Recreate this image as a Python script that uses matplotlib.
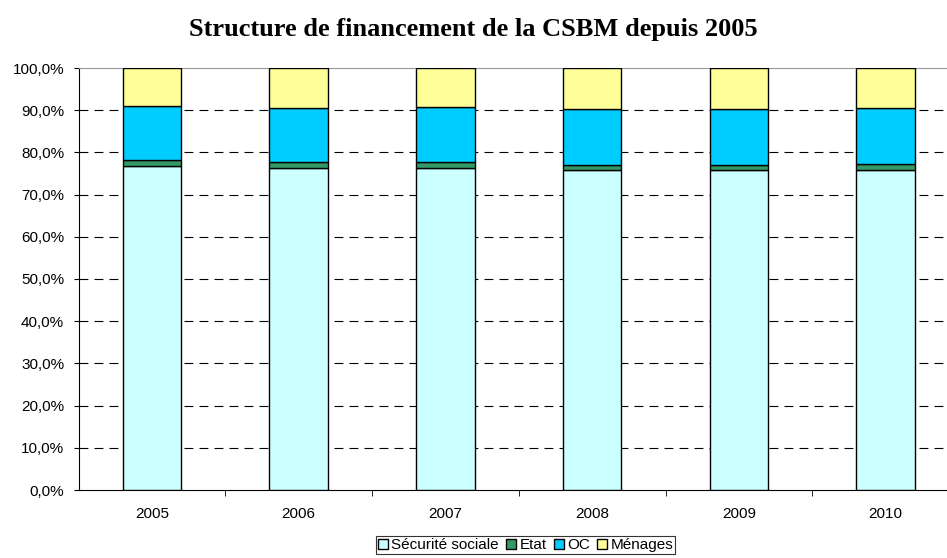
import matplotlib
matplotlib.use('Agg')
import matplotlib.pyplot as plt
from matplotlib.ticker import FuncFormatter, FixedLocator
import numpy as np

years = ['2005', '2006', '2007', '2008', '2009', '2010']
secu = [76.8, 76.3, 76.4, 75.8, 75.8, 75.8]
etat = [1.3, 1.35, 1.25, 1.25, 1.2, 1.4]
oc = [12.9, 12.95, 13.05, 13.35, 13.4, 13.4]
menages = [9.0, 9.4, 9.3, 9.6, 9.6, 9.4]

series = [
    ('Sécurité sociale', secu, '#CCFFFF'),
    ('Etat', etat, '#339966'),
    ('OC', oc, '#00CCFF'),
    ('Ménages', menages, '#FFFF99'),
]

plt.rcParams['font.family'] = ['Liberation Sans', 'DejaVu Sans']

fig = plt.figure(figsize=(9.47, 5.58), dpi=100)
ax = fig.add_axes([78.7 / 947, 1 - 490 / 558, 1 - 78.7 / 947, (490 - 68) / 558])

x = np.arange(len(years))
bottom = np.zeros(len(years))
for name, vals, col in series:
    ax.bar(x, vals, width=0.40, bottom=bottom, color=col, edgecolor='black',
           linewidth=1.0, label=name, zorder=3)
    bottom += np.array(vals)

ax.set_ylim(0, 100)
ax.set_xlim(-0.5, (947 - 78.7) / 146.7 - 0.5)
ax.set_yticks(np.arange(0, 101, 10))
ax.yaxis.set_major_formatter(FuncFormatter(lambda v, p: f'{v:.1f}%'.replace('.', ',')))
# dashed horizontal grid, drawn behind the bars
for v in range(10, 100, 10):
    ax.axhline(v, color='black', linestyle=(0, (8, 5.5)), linewidth=0.8, zorder=1)

ax.set_xticks(x)
ax.set_xticklabels(years)
ax.xaxis.set_minor_locator(FixedLocator(np.arange(0.5, 5.5, 1.0)))
ax.tick_params(axis='x', which='major', length=0, pad=12, labelsize=11)
ax.tick_params(axis='x', which='minor', length=4, direction='out', color='black')
ax.tick_params(axis='y', length=3.5, direction='out', labelsize=11, pad=7)

ax.spines['right'].set_visible(False)
ax.spines['top'].set_color('#999999')
ax.spines['left'].set_color('black')
ax.spines['bottom'].set_color('black')

fig.suptitle('Structure de financement de la CSBM depuis 2005', x=0.5, y=0.968,
             fontsize=19, fontweight='bold', family='Liberation Serif')

leg = fig.legend(loc='center', bbox_to_anchor=(0.555, 1 - 545 / 558), ncol=4,
                 frameon=True, fancybox=False, edgecolor='black', fontsize=11,
                 handlelength=0.65, handleheight=0.65, handletextpad=0.25,
                 columnspacing=0.45, borderpad=0.1, borderaxespad=0)
leg.get_frame().set_linewidth(0.8)

fig.savefig('out.png', dpi=100)
